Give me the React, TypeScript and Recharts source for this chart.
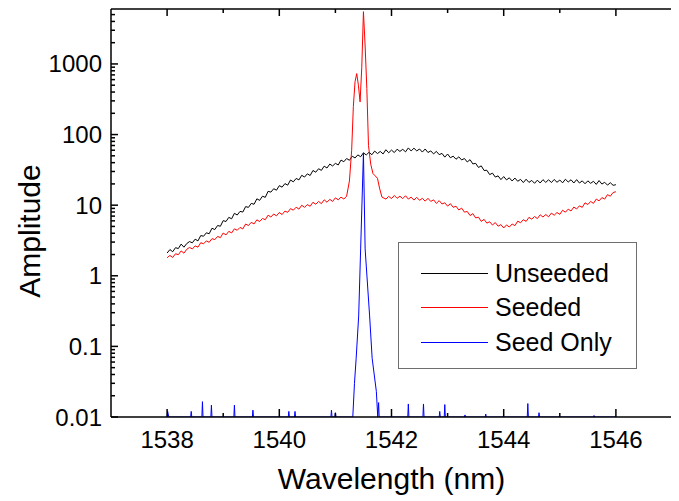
import React from 'react';
import { LineChart, Line, XAxis, YAxis, Legend } from 'recharts';

const FONT = '"Liberation Sans", Arial, Helvetica, sans-serif';

// ---------- data ----------
const unseededNm = [
  1538.00, 1538.05, 1538.10, 1538.15, 1538.20, 1538.25, 1538.30, 1538.35, 1538.40, 1538.45,
  1538.50, 1538.55, 1538.60, 1538.65, 1538.70, 1538.75, 1538.80, 1538.85, 1538.90, 1538.95,
  1539.00, 1539.05, 1539.10, 1539.15, 1539.20, 1539.25, 1539.30, 1539.35, 1539.40, 1539.45,
  1539.50, 1539.55, 1539.60, 1539.65, 1539.70, 1539.75, 1539.80, 1539.85, 1539.90, 1539.95,
  1540.00, 1540.05, 1540.10, 1540.15, 1540.20, 1540.25, 1540.30, 1540.35, 1540.40, 1540.45,
  1540.50, 1540.55, 1540.60, 1540.65, 1540.70, 1540.75, 1540.80, 1540.85, 1540.90, 1540.95,
  1541.00, 1541.05, 1541.10, 1541.15, 1541.20, 1541.25, 1541.30, 1541.35, 1541.40, 1541.45,
  1541.50, 1541.55, 1541.60, 1541.65, 1541.70, 1541.75, 1541.80, 1541.85, 1541.90, 1541.95,
  1542.00, 1542.05, 1542.10, 1542.15, 1542.20, 1542.25, 1542.30, 1542.35, 1542.40, 1542.45,
  1542.50, 1542.55, 1542.60, 1542.65, 1542.70, 1542.75, 1542.80, 1542.85, 1542.90, 1542.95,
  1543.00, 1543.05, 1543.10, 1543.15, 1543.20, 1543.25, 1543.30, 1543.35, 1543.40, 1543.45,
  1543.50, 1543.55, 1543.60, 1543.65, 1543.70, 1543.75, 1543.80, 1543.85, 1543.90, 1543.95,
  1544.00, 1544.05, 1544.10, 1544.15, 1544.20, 1544.25, 1544.30, 1544.35, 1544.40, 1544.45,
  1544.50, 1544.55, 1544.60, 1544.65, 1544.70, 1544.75, 1544.80, 1544.85, 1544.90, 1544.95,
  1545.00, 1545.05, 1545.10, 1545.15, 1545.20, 1545.25, 1545.30, 1545.35, 1545.40, 1545.45,
  1545.50, 1545.55, 1545.60, 1545.65, 1545.70, 1545.75, 1545.80, 1545.85, 1545.90, 1545.95,
  1546.00,
];
const unseededAmp = [
  2.10, 2.35, 2.19, 2.50, 2.43, 2.81, 2.54, 2.86, 3.05, 2.93,
  3.30, 3.12, 3.71, 3.63, 4.06, 3.94, 4.71, 4.51, 5.15, 5.03,
  6.04, 5.87, 6.72, 6.41, 7.67, 7.25, 8.16, 7.99, 9.54, 9.31,
  10.6, 10.3, 12.3, 11.7, 13.4, 12.9, 15.7, 15.3, 17.1, 16.3,
  18.9, 18.0, 20.2, 19.2, 22.7, 21.4, 23.9, 22.8, 26.5, 25.0,
  27.8, 26.3, 31.0, 29.3, 32.8, 31.1, 35.7, 33.6, 38.2, 35.9,
  39.1, 37.1, 43.5, 41.2, 45.8, 43.2, 49.4, 46.6, 51.5, 48.5,
  55.1, 51.4, 56.2, 51.8, 58.3, 53.8, 57.7, 53.1, 61.0, 55.2,
  60.3, 55.6, 62.0, 57.7, 61.8, 56.9, 64.7, 58.6, 64.1, 58.7,
  62.4, 56.5, 62.5, 55.7, 58.7, 53.2, 57.8, 51.9, 54.1, 47.9,
  53.0, 47.0, 49.4, 44.7, 48.3, 43.7, 45.8, 40.9, 44.1, 38.4,
  39.1, 34.2, 36.0, 31.0, 31.2, 27.1, 28.4, 25.0, 26.0, 23.0,
  25.4, 22.8, 24.4, 22.0, 24.2, 21.8, 23.2, 20.9, 23.3, 21.0,
  22.4, 20.4, 22.6, 20.6, 23.0, 21.0, 22.9, 20.9, 23.1, 21.1,
  22.7, 20.7, 23.3, 21.3, 22.9, 20.6, 23.0, 20.6, 22.1, 20.1,
  22.1, 20.4, 21.8, 19.7, 22.3, 19.9, 21.1, 19.2, 20.8, 19.1,
  19.5,
];

const seededNm = [
  1538.00, 1538.05, 1538.10, 1538.15, 1538.20, 1538.25, 1538.30, 1538.35, 1538.40, 1538.45,
  1538.50, 1538.55, 1538.60, 1538.65, 1538.70, 1538.75, 1538.80, 1538.85, 1538.90, 1538.95,
  1539.00, 1539.05, 1539.10, 1539.15, 1539.20, 1539.25, 1539.30, 1539.35, 1539.40, 1539.45,
  1539.50, 1539.55, 1539.60, 1539.65, 1539.70, 1539.75, 1539.80, 1539.85, 1539.90, 1539.95,
  1540.00, 1540.05, 1540.10, 1540.15, 1540.20, 1540.25, 1540.30, 1540.35, 1540.40, 1540.45,
  1540.50, 1540.55, 1540.60, 1540.65, 1540.70, 1540.75, 1540.80, 1540.85, 1540.90, 1540.95,
  1541.00, 1541.05, 1541.10, 1541.15, 1541.20,
  1541.25, 1541.29, 1541.32, 1541.35, 1541.38, 1541.41, 1541.44, 1541.47, 1541.50, 1541.53,
  1541.56, 1541.59, 1541.63, 1541.67, 1541.71, 1541.75, 1541.79, 1541.83,
  1541.90, 1541.95,
  1542.00, 1542.05, 1542.10, 1542.15, 1542.20, 1542.25, 1542.30, 1542.35, 1542.40, 1542.45,
  1542.50, 1542.55, 1542.60, 1542.65, 1542.70, 1542.75, 1542.80, 1542.85, 1542.90, 1542.95,
  1543.00, 1543.05, 1543.10, 1543.15, 1543.20, 1543.25, 1543.30, 1543.35, 1543.40, 1543.45,
  1543.50, 1543.55, 1543.60, 1543.65, 1543.70, 1543.75, 1543.80, 1543.85, 1543.90, 1543.95,
  1544.00, 1544.05, 1544.10, 1544.15, 1544.20, 1544.25, 1544.30, 1544.35, 1544.40, 1544.45,
  1544.50, 1544.55, 1544.60, 1544.65, 1544.70, 1544.75, 1544.80, 1544.85, 1544.90, 1544.95,
  1545.00, 1545.05, 1545.10, 1545.15, 1545.20, 1545.25, 1545.30, 1545.35, 1545.40, 1545.45,
  1545.50, 1545.55, 1545.60, 1545.65, 1545.70, 1545.75, 1545.80, 1545.85, 1545.90, 1545.95,
  1546.00,
];
const seededAmp = [
  1.80, 1.94, 1.82, 2.05, 1.99, 2.25, 2.09, 2.37, 2.52, 2.40,
  2.65, 2.54, 2.94, 2.84, 3.12, 2.98, 3.36, 3.25, 3.61, 3.47,
  4.03, 3.79, 4.26, 4.04, 4.62, 4.41, 4.84, 4.61, 5.41, 5.14,
  5.72, 5.42, 6.20, 5.86, 6.49, 6.22, 7.21, 6.79, 7.49, 7.06,
  7.88, 7.36, 8.24, 7.92, 8.93, 8.49, 9.36, 8.79, 9.98, 9.31,
  10.2, 9.64, 11.0, 10.3, 11.3, 10.5, 11.9, 11.0, 12.1, 11.3,
  12.7, 11.9, 13.0, 12.2, 13.4,
  22, 60, 250, 560, 730, 500, 290, 900, 5500, 1800,
  450, 70, 38, 28, 26, 24, 17, 13,
  12.2, 13.3,
  12.4, 13.7, 12.5, 13.4, 12.4, 13.6, 12.2, 13.0, 11.8, 12.9,
  11.7, 12.5, 11.4, 12.5, 11.3, 11.9, 10.6, 11.6, 10.4, 10.8,
  9.69, 10.5, 9.31, 9.67, 8.55, 9.08, 7.97, 8.14, 7.13, 7.58,
  6.60, 6.76, 5.89, 6.30, 5.57, 5.82, 5.23, 5.67, 5.04, 5.30,
  4.75, 5.25, 4.90, 5.41, 5.13, 5.94, 5.63, 6.24, 5.89, 6.72,
  6.34, 6.90, 6.46, 7.31, 6.79, 7.38, 6.84, 7.72, 7.20, 7.88,
  7.41, 8.48, 7.95, 8.79, 8.27, 9.40, 8.83, 9.79, 9.31, 10.8,
  10.2, 11.3, 10.6, 12.2, 11.5, 12.8, 12.2, 14.1, 13.4, 15.1,
  15.5,
];

const seedOnlyNm = [
  1538.0, 1538.01, 1538.03, 1538.42, 1538.43, 1538.44, 1538.62, 1538.63, 1538.64,
  1538.78, 1538.79, 1538.8, 1539.19, 1539.2, 1539.21, 1539.52, 1539.53, 1539.54,
  1540.16, 1540.17, 1540.18, 1540.27, 1540.28, 1540.29, 1540.92, 1540.93, 1540.94,
  1540.99, 1541.0, 1541.01,
  1541.31, 1541.34, 1541.37, 1541.415, 1541.45, 1541.5, 1541.53, 1541.61, 1541.655,
  1541.73, 1541.755, 1541.77, 1541.78,
  1542.29, 1542.3, 1542.31, 1542.56, 1542.57, 1542.58, 1542.85, 1542.86, 1542.87,
  1542.94, 1542.95, 1542.96, 1543.3, 1543.31, 1543.32, 1543.67, 1543.68, 1543.69,
  1544.42, 1544.43, 1544.44, 1544.62, 1544.63, 1544.64, 1545.6, 1545.61, 1545.62,
  1546.0,
];
const seedOnlyAmp = [
  0.01, 0.012, 0.01, 0.01, 0.012, 0.01, 0.01, 0.0165, 0.01,
  0.01, 0.0147, 0.01, 0.01, 0.0147, 0.01, 0.01, 0.0125, 0.01,
  0.01, 0.012, 0.01, 0.01, 0.012, 0.01, 0.01, 0.0125, 0.01,
  0.01, 0.0115, 0.01,
  0.01, 0.03, 0.068, 0.27, 2.4, 55, 2.4, 0.27, 0.068,
  0.023, 0.01, 0.016, 0.01,
  0.01, 0.0153, 0.01, 0.01, 0.0153, 0.01, 0.01, 0.012, 0.01,
  0.01, 0.015, 0.01, 0.01, 0.0107, 0.01, 0.01, 0.011, 0.01,
  0.01, 0.0155, 0.01, 0.01, 0.0115, 0.01, 0.01, 0.0105, 0.01,
  0.01,
];

const legendNames = ['Unseeded', 'Seeded', 'Seed Only'];
const legendColors = ['#000000', '#ff0000', '#0000ff'];

const xTicks = [1538, 1539, 1540, 1541, 1542, 1543, 1544, 1545, 1546];
const xLabelTicks = [1538, 1540, 1542, 1544, 1546];
const yMajorTicks = [0.01, 0.1, 1, 10, 100, 1000];
const yTickLabels = ['0.01', '0.1', '1', '10', '100', '1000'];
const yMinorTicks = [
  0.02, 0.03, 0.04, 0.05, 0.06, 0.07, 0.08, 0.09,
  0.2, 0.3, 0.4, 0.5, 0.6, 0.7, 0.8, 0.9,
  2, 3, 4, 5, 6, 7, 8, 9,
  20, 30, 40, 50, 60, 70, 80, 90,
  200, 300, 400, 500, 600, 700, 800, 900,
  2000, 3000, 4000, 5000,
];
const yAllTicks = [...yMajorTicks, ...yMinorTicks].sort((a, b) => a - b);

const toRows = (xs: number[], ys: number[]) => xs.map((nm, i) => ({ nm, amp: ys[i] }));
const unseededData = toRows(unseededNm, unseededAmp);
const seededData = toRows(seededNm, seededAmp);
const seedOnlyData = toRows(seedOnlyNm, seedOnlyAmp);

// ---------- custom ticks ----------
const BottomTick = (props: any) => {
  const { x, y, payload } = props;
  const v = payload.value;
  const major = xLabelTicks.includes(v);
  return (
    <g>
      <line x1={x} x2={x} y1={y} y2={y - (major ? 8 : 4)} stroke="#000" strokeWidth={1.5} />
      {major && (
        <text x={x} y={y + 31} textAnchor="middle" fontSize={24} fontFamily={FONT} fill="#000">
          {v}
        </text>
      )}
    </g>
  );
};

const TopTick = (props: any) => {
  const { x, y, payload } = props;
  const major = xLabelTicks.includes(payload.value);
  return <line x1={x} x2={x} y1={y} y2={y + (major ? 7 : 4)} stroke="#000" strokeWidth={1.5} />;
};

const LeftTick = (props: any) => {
  const { x, y, payload } = props;
  const idx = yMajorTicks.findIndex((t) => Math.abs(t - payload.value) < t * 1e-6);
  const major = idx >= 0;
  return (
    <g>
      <line x1={x} x2={x + (major ? 7 : 4)} y1={y} y2={y} stroke="#000" strokeWidth={1.5} />
      {major && (
        <text x={x - 9} y={y + 8.5} textAnchor="end" fontSize={24} fontFamily={FONT} fill="#000">
          {yTickLabels[idx]}
        </text>
      )}
    </g>
  );
};

const XTitle = (props: any) => {
  const vb = props.viewBox || { x: 103, y: 409, width: 561, height: 84 };
  return (
    <text x={vb.x + vb.width / 2} y={vb.y + 72} textAnchor="middle" fontSize={30} fontFamily={FONT} fill="#000">
      Wavelength (nm)
    </text>
  );
};

const YTitle = (props: any) => {
  const vb = props.viewBox || { x: 0, y: 1, width: 103, height: 408 };
  const cx = vb.x + 32;
  const cy = vb.y + vb.height / 2 + 18;
  return (
    <text
      x={cx}
      y={cy}
      transform={`rotate(-90, ${cx}, ${cy})`}
      textAnchor="middle"
      fontSize={30}
      fontFamily={FONT}
      fill="#000"
    >
      Amplitude
    </text>
  );
};

const LegendBox = () => (
  <div
    style={{
      width: 239,
      height: 127,
      boxSizing: 'border-box',
      border: '1.5px solid #6e6e6e',
      background: '#fff',
      paddingTop: 13,
      fontFamily: FONT,
      fontSize: 25,
      color: '#000',
    }}
  >
    {legendNames.map((name, i) => (
      <div key={name} style={{ display: 'flex', alignItems: 'center', height: 34.5 }}>
        <span
          style={{
            display: 'inline-block',
            marginLeft: 22,
            width: 67,
            height: 0,
            borderTop: `1.5px solid ${legendColors[i]}`,
          }}
        />
        <span style={{ marginLeft: 7, lineHeight: '25px' }}>{name}</span>
      </div>
    ))}
  </div>
);

export default function App() {
  return (
    <div style={{ width: 671, height: 493 }}>
      <LineChart width={671} height={493} margin={{ top: 0, right: 6, bottom: 0, left: 0 }}>
        <XAxis
          xAxisId="bottom"
          dataKey="nm"
          type="number"
          domain={[1537, 1547]}
          ticks={xTicks}
          interval={0}
          height={84}
          tickSize={0}
          tickMargin={0}
          tickLine={false}
          tick={<BottomTick />}
          axisLine={{ stroke: '#000', strokeWidth: 1.5 }}
          allowDataOverflow
          label={<XTitle />}
        />
        <XAxis
          xAxisId="top"
          orientation="top"
          dataKey="nm"
          type="number"
          domain={[1537, 1547]}
          ticks={xTicks}
          interval={0}
          height={1}
          tickSize={0}
          tickMargin={0}
          tickLine={false}
          tick={<TopTick />}
          axisLine={{ stroke: '#000', strokeWidth: 1.5 }}
          allowDataOverflow
        />
        <YAxis
          yAxisId="left"
          type="number"
          scale="log"
          domain={[0.01, 6000]}
          ticks={yAllTicks}
          interval={0}
          width={103}
          tickSize={0}
          tickMargin={0}
          tickLine={false}
          tick={<LeftTick />}
          axisLine={{ stroke: '#000', strokeWidth: 1.5 }}
          allowDataOverflow
          label={<YTitle />}
        />
        <YAxis
          yAxisId="right"
          orientation="right"
          type="number"
          domain={[0, 1]}
          width={1}
          tick={false}
          tickLine={false}
          axisLine={{ stroke: '#000', strokeWidth: 1.5 }}
        />
        <Line
          data={unseededData}
          dataKey="amp"
          name="Unseeded"
          xAxisId="bottom"
          yAxisId="left"
          stroke="#000000"
          strokeWidth={1}
          dot={false}
          activeDot={false}
          isAnimationActive={false}
        />
        <Line
          data={seededData}
          dataKey="amp"
          name="Seeded"
          xAxisId="bottom"
          yAxisId="left"
          stroke="#ff0000"
          strokeWidth={1}
          dot={false}
          activeDot={false}
          isAnimationActive={false}
        />
        <Line
          data={seedOnlyData}
          dataKey="amp"
          name="Seed Only"
          xAxisId="bottom"
          yAxisId="left"
          stroke="#0000ff"
          strokeWidth={1}
          dot={false}
          activeDot={false}
          isAnimationActive={false}
        />
        <Legend
          layout="horizontal"
          verticalAlign="middle"
          align="center"
          wrapperStyle={{ left: 390, top: 234, width: 239, height: 127 }}
          content={<LegendBox />}
        />
      </LineChart>
    </div>
  );
}
